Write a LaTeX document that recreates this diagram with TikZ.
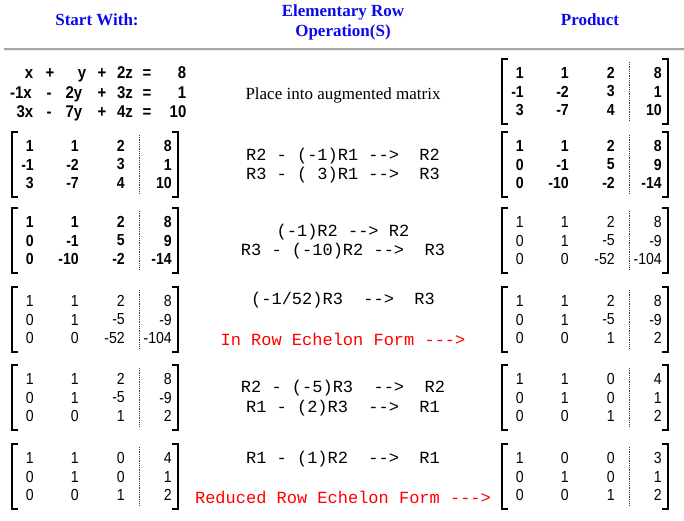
\documentclass[tikz,border=0pt]{standalone}
\usepackage{fontspec}
\setmainfont{Liberation Serif}
\setsansfont{Liberation Sans}
\setmonofont{Liberation Mono}
\newfontfamily\numfont[FakeStretch=0.88]{Liberation Sans}
\usetikzlibrary{positioning}

\definecolor{headblue}{RGB}{10,10,235}

\tikzset{
  head/.style={text=headblue, font=\bfseries\fontsize{17}{20}\selectfont, inner sep=0pt, align=center},
  place/.style={font=\fontsize{17}{17}\selectfont, inner sep=0pt},
  rowop/.style={font=\ttfamily\fontsize{17}{17}\selectfont, inner sep=0pt},
  eqn/.style={font=\numfont\bfseries\fontsize{17}{17}\selectfont, inner sep=0pt, anchor=base},
  numb/.style={font=\numfont\bfseries\fontsize{16}{16}\selectfont, inner sep=0pt, anchor=east},
  numr/.style={font=\numfont\fontsize{16}{16}\selectfont, inner sep=0pt, anchor=east},
  bracket/.style={line width=1.8pt},
  augline/.style={densely dotted, line width=0.8pt, black!75}
}

% augmented 3x4 matrix: name, x, y (top left), number style, rows a/b/c/d
\newcommand{\augmat}[5]{%
  \begin{scope}[shift={(#2,#3)}]
    \draw [bracket] (6,0) -- (0,0) -- (0,65) -- (6,65);
    \draw [bracket] (160,0) -- (166,0) -- (166,65) -- (160,65);
    \draw [augline] (127,3) -- (127,62);
    \foreach \a/\b/\c/\d [count=\r] in {#5} {
      \node [#4] (#1-\r-1) at (22,{14+18.5*(\r-1)}) {\a};
      \node [#4] (#1-\r-2) at (67,{14+18.5*(\r-1)}) {\b};
      \node [#4] (#1-\r-3) at (113,{14+18.5*(\r-1)}) {\c};
      \node [#4] (#1-\r-4) at (160,{14+18.5*(\r-1)}) {\d};
    }
  \end{scope}}

\begin{document}
\begin{tikzpicture}[x=1pt, y=-1pt]
	\useasboundingbox (0,0) rectangle (684,521);
	% column heads
	\node [head] (hstart) at (97,20) {Start With:};
	\node [head] (hop) at (343,22) {Elementary Row\\Operation(S)};
	\node [head] (hprod) at (590,20) {Product};
	\draw [gray!70, line width=1.3pt] (4,49) -- (684,49);
	\draw [gray!15, line width=1pt] (4,50.6) -- (684,50.6);
	% the system of equations, on common baselines
	\foreach \t/\px [count=\k] in {x/29, +/50, y/82, +/102, 2z/125, =/147, 8/182}
		\node [eqn] (eqa-\k) at (\px,79) {\t};
	\foreach \t/\px [count=\k] in {-1x/21, -/49, 2y/74, +/102, 3z/125, =/147, 1/182}
		\node [eqn] (eqb-\k) at (\px,99) {\t};
	\foreach \t/\px [count=\k] in {3x/25, -/49, 7y/74, +/102, 4z/125, =/147, 10/178}
		\node [eqn] (eqc-\k) at (\px,118) {\t};
	\node [place] (op1) at (343,95) {Place into augmented matrix};
	\augmat{p1}{502}{59}{numb}{1/1/2/8, -1/-2/3/1, 3/-7/4/10}
	% step 1
	\augmat{s2}{12}{132}{numb}{1/1/2/8, -1/-2/3/1, 3/-7/4/10}
	\node [rowop] (op2a) at (343,156) {R2 - (-1)R1 -{}-{}>~~R2};
	\node [rowop] (op2b) at (343,175) {R3 - (~3)R1 -{}-{}>~~R3};
	\augmat{p2}{502}{132}{numb}{1/1/2/8, 0/-1/5/9, 0/-10/-2/-14}
	% step 2
	\augmat{s3}{12}{208}{numb}{1/1/2/8, 0/-1/5/9, 0/-10/-2/-14}
	\node [rowop] (op3a) at (343,232) {(-1)R2 -{}-{}> R2};
	\node [rowop] (op3b) at (343,251) {R3 - (-10)R2 -{}-{}>~~R3};
	\augmat{p3}{502}{208}{numr}{1/1/2/8, 0/1/-5/-9, 0/0/-52/-104}
	% step 3
	\augmat{s4}{12}{287}{numr}{1/1/2/8, 0/1/-5/-9, 0/0/-52/-104}
	\node [rowop] (op4a) at (343,300) {(-1/52)R3~~-{}-{}>~~R3};
	\node [rowop, text=red] (ref) at (343,339) {In Row Echelon Form -{}-{}-{}>};
	\augmat{p4}{502}{287}{numr}{1/1/2/8, 0/1/-5/-9, 0/0/1/2}
	% step 4
	\augmat{s5}{12}{365}{numr}{1/1/2/8, 0/1/-5/-9, 0/0/1/2}
	\node [rowop] (op5a) at (343,388) {R2 - (-5)R3~~-{}-{}>~~R2};
	\node [rowop] (op5b) at (343,408) {R1 - (2)R3~~-{}-{}>~~R1};
	\augmat{p5}{502}{365}{numr}{1/1/0/4, 0/1/0/1, 0/0/1/2}
	% step 5
	\augmat{s6}{12}{444}{numr}{1/1/0/4, 0/1/0/1, 0/0/1/2}
	\node [rowop] (op6a) at (343,459) {R1 - (1)R2~~-{}-{}>~~R1};
	\node [rowop, text=red] (rref) at (343,497) {Reduced Row Echelon Form -{}-{}-{}>};
	\augmat{p6}{502}{444}{numr}{1/0/0/3, 0/1/0/1, 0/0/1/2}
\end{tikzpicture}
\end{document}
